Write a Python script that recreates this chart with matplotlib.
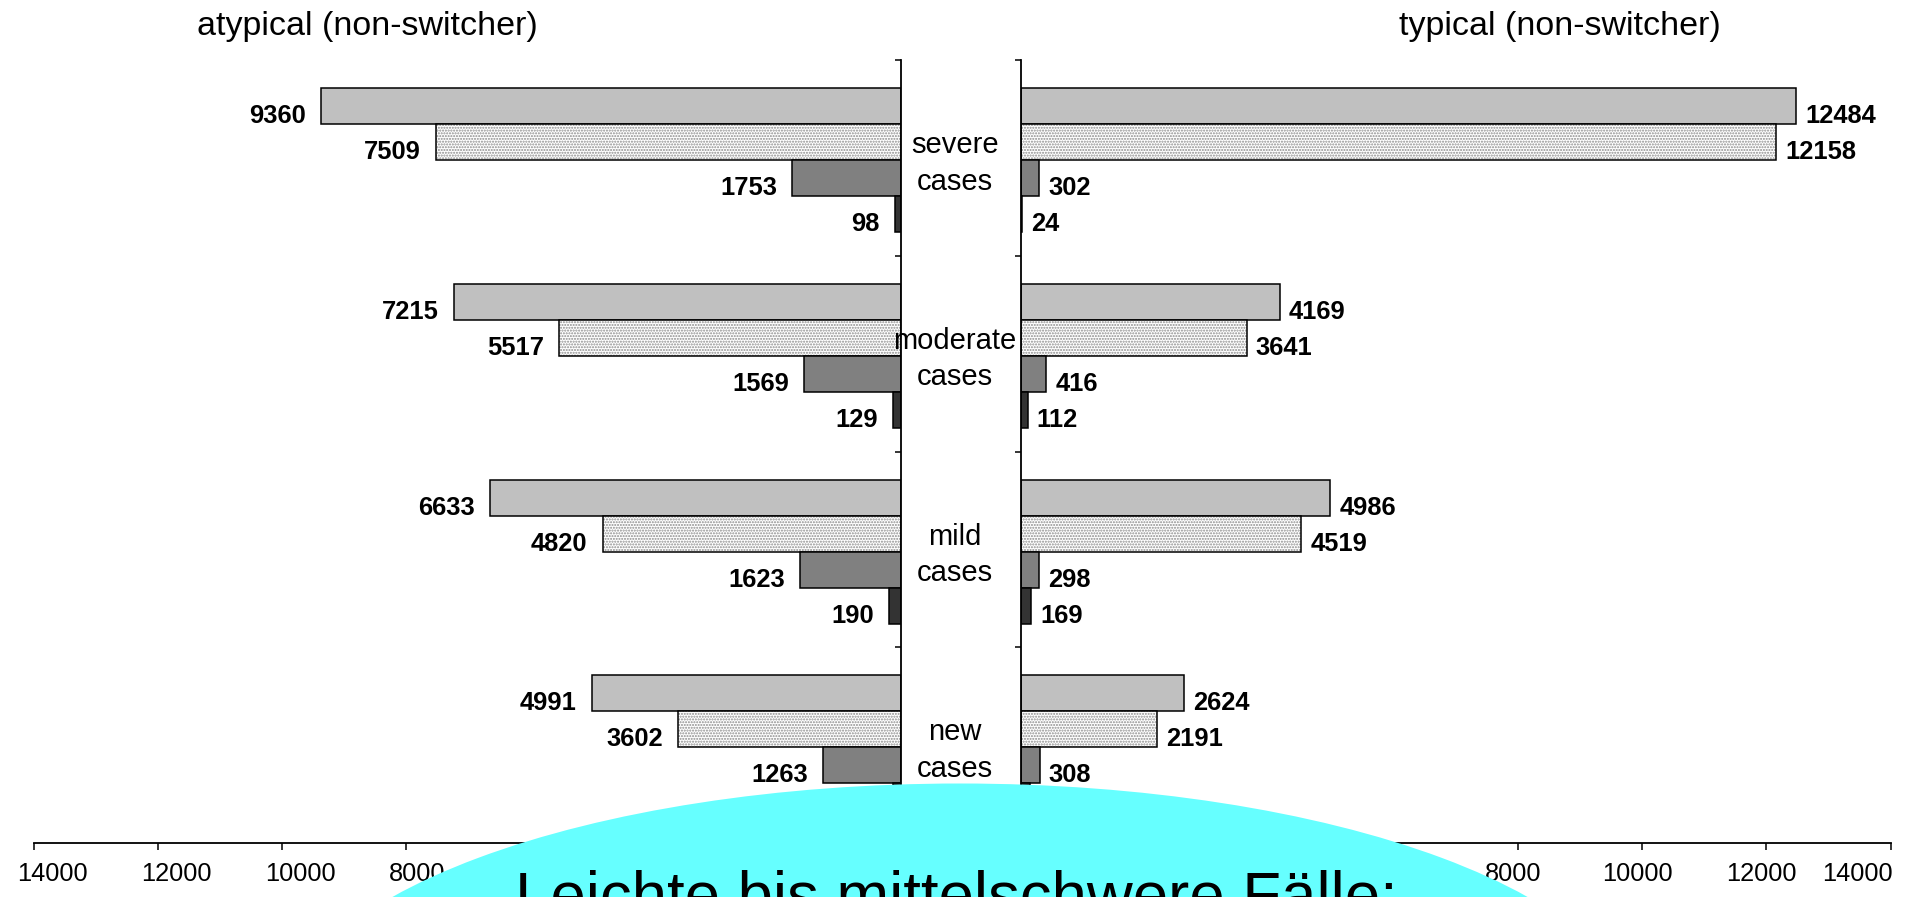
import matplotlib
matplotlib.use("Agg")
import matplotlib.pyplot as plt
from matplotlib.patches import Ellipse
from matplotlib.transforms import blended_transform_factory, ScaledTranslation

plt.rcParams["font.family"] = ["Liberation Sans", "DejaVu Sans"]

# data, groups from top to bottom
categories = ["severe\ncases", "moderate\ncases", "mild\ncases", "new\ncases"]

atypical_1 = [9360, 7215, 6633, 4991]
atypical_2 = [7509, 5517, 4820, 3602]
atypical_3 = [1753, 1569, 1623, 1263]
atypical_4 = [98, 129, 190, 134]

typical_1 = [12484, 4169, 4986, 2624]
typical_2 = [12158, 3641, 4519, 2191]
typical_3 = [302, 416, 298, 308]
typical_4 = [24, 112, 169, 145]

x_ticks = [0, 2000, 4000, 6000, 8000, 10000, 12000, 14000]
# labels 0..6000 sit under the cyan overlay in the original
x_ticklabels = ["", "", "", "", "8000", "10000", "12000", "14000"]

fills = ["#c0c0c0", "hatch", "#808080", "#333333"]
bar_h = 0.184
val_size = 18.4


def shift_label(fig, lbl, dx_px):
    lbl.set_transform(lbl.get_transform() + ScaledTranslation(dx_px / 100, 0, fig.dpi_scale_trans))


def draw_panel(fig, ax, series, side):
    for k, vals in enumerate(series):
        ys = [i + (k - 1.5) * bar_h + 0.012 for i in range(len(vals))]
        if fills[k] == "hatch":
            ax.barh(ys, vals, height=bar_h, color="white", edgecolor="#8c8c8c",
                    hatch="......", linewidth=0)
            ax.barh(ys, vals, height=bar_h, fill=False, edgecolor="black", linewidth=1.1)
        else:
            ax.barh(ys, vals, height=bar_h, color=fills[k], edgecolor="black", linewidth=1.1)
        for v, y in zip(vals, ys):
            if side == "left":
                ax.annotate(f"{v}", xy=(v, y), xytext=(-10.8, -12.2), textcoords="offset points",
                            ha="right", va="baseline", fontsize=val_size, fontweight="bold")
            else:
                ax.annotate(f"{v}", xy=(v, y), xytext=(6.5, -12.2), textcoords="offset points",
                            ha="left", va="baseline", fontsize=val_size, fontweight="bold")

    ax.set_ylim(3.5, -0.5)
    ax.set_yticks([-0.5, 0.5, 1.5, 2.5])
    ax.set_yticklabels([])
    ax.set_xticks(x_ticks)
    ax.set_xticklabels(x_ticklabels)
    ax.tick_params(axis="x", direction="out", length=5, width=1.1, labelsize=18.3, pad=9)
    ax.spines["top"].set_visible(False)
    for s in ax.spines.values():
        s.set_linewidth(1.3)
    if side == "left":
        ax.set_xlim(14000, 0)
        ax.spines["left"].set_visible(False)
        ax.yaxis.tick_right()
        ax.tick_params(axis="y", direction="in", length=4, width=1.1)
        # labels start a bit left of their tick
        for lbl in ax.get_xticklabels():
            lbl.set_horizontalalignment("left")
            shift_label(fig, lbl, -17)
    else:
        ax.set_xlim(0, 14000)
        ax.spines["right"].set_visible(False)
        ax.tick_params(axis="y", direction="out", length=4, width=1.1)
        labels = ax.get_xticklabels()
        for lbl in labels[:-1]:
            shift_label(fig, lbl, -5)
        labels[-1].set_horizontalalignment("right")
        shift_label(fig, labels[-1], 2)


fig = plt.figure(figsize=(19.22, 8.97), dpi=100)
ax_left = fig.add_axes([34 / 1922, 54 / 897, 867 / 1922, 783 / 897])
ax_right = fig.add_axes([1020.6 / 1922, 54 / 897, 870 / 1922, 783 / 897])

draw_panel(fig, ax_left, [atypical_1, atypical_2, atypical_3, atypical_4], "left")
draw_panel(fig, ax_right, [typical_1, typical_2, typical_3, typical_4], "right")

fig.text(367 / 1922, 1 - 27 / 897, "atypical (non-switcher)", ha="center", va="center", fontsize=24.5)
fig.text(1560 / 1922, 1 - 27 / 897, "typical (non-switcher)", ha="center", va="center", fontsize=24.5)

trans = blended_transform_factory(fig.transFigure, ax_left.transData)
for i, cat in enumerate(categories):
    ax_left.text(955 / 1922, i + 0.028, cat, transform=trans, ha="center", va="center",
                 fontsize=21, linespacing=1.38, clip_on=False)

# cyan overlay with caption
fig.patches.append(Ellipse((960 / 1922, (897 - 1038) / 897), 1364 / 1922, 509 / 897,
                           transform=fig.transFigure, facecolor="#66ffff", edgecolor="none"))
fig.text(956 / 1922, (897 - 915) / 897, "Leichte bis mittelschwere Fälle:", ha="center",
         va="baseline", fontsize=45.7)

fig.savefig("out.png", dpi=100)
